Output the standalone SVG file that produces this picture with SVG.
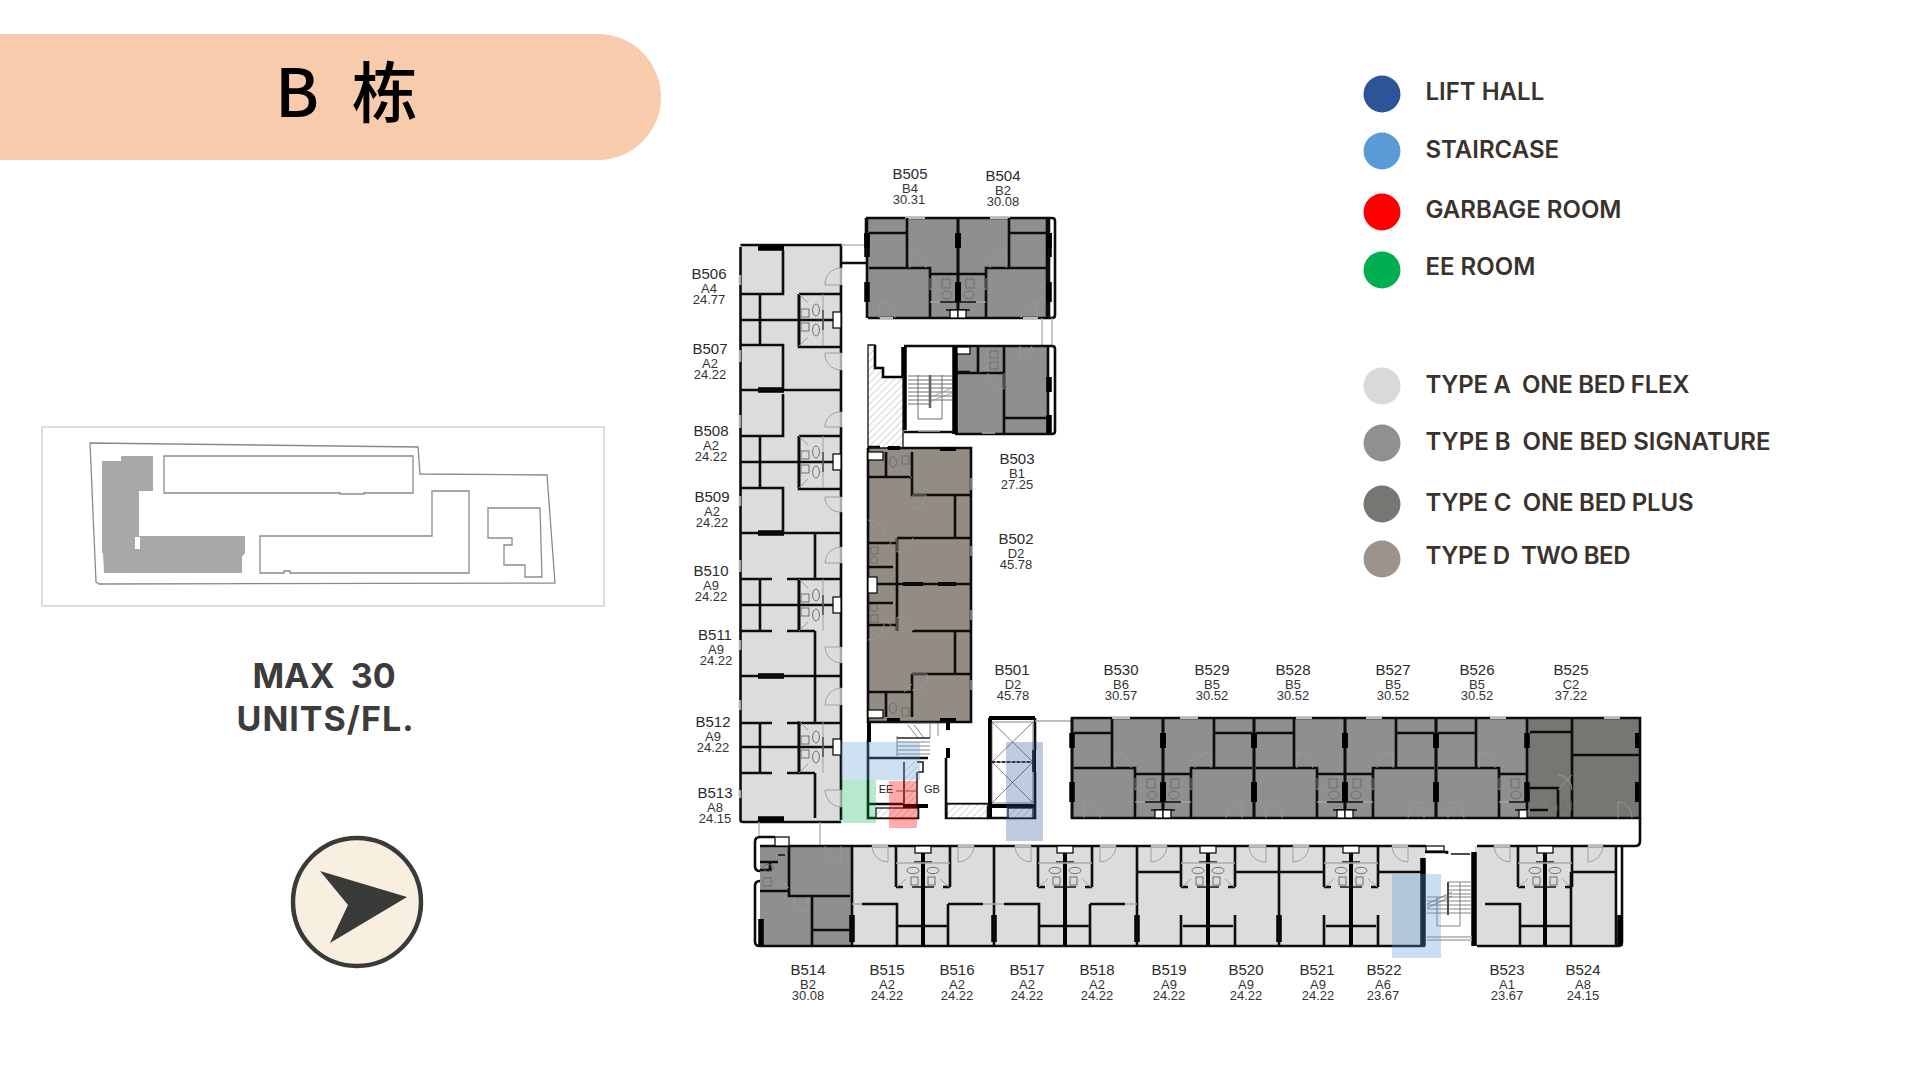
<svg xmlns="http://www.w3.org/2000/svg" width="1920" height="1080" viewBox="0 0 1920 1080">
<style>
.leg{font-family:"Inter","Liberation Sans",sans-serif;font-weight:600;font-size:24px;fill:#3a332d;white-space:pre}
.max{font-family:"Inter","Liberation Sans",sans-serif;font-weight:700;font-size:34px;fill:#3c3c3c;text-anchor:middle;white-space:pre}
.n{font-family:"Liberation Sans",sans-serif;font-size:15px;fill:#2a2a2a;text-anchor:middle}
.s{font-family:"Liberation Sans",sans-serif;font-size:13px;fill:#333;text-anchor:middle}
.r{font-family:"Liberation Sans",sans-serif;font-size:11px;fill:#222;text-anchor:middle}
.k{fill:none;stroke:#0c0c0c;stroke-width:2.6}
.k1{fill:none;stroke:#111;stroke-width:1.5}
.K{fill:none;stroke:#000;stroke-width:5.5}
.K4{fill:none;stroke:#000;stroke-width:4}
.g{fill:none;stroke:#aaa;stroke-width:2.4}
.g1{fill:none;stroke:#aaa;stroke-width:1.3}
.g2{fill:none;stroke:#bbb;stroke-width:1.8}
.d{fill:none;stroke:#999;stroke-width:.9}
.f{fill:none;stroke:#6e6e6e;stroke-width:1}
.f8{fill:none;stroke:#666;stroke-width:.8}
.w{fill:#fff;stroke:#000;stroke-width:1.2}
.m{fill:none;stroke:#8a8a8a;stroke-width:1.3}
.h{fill:url(#hatch);stroke:#111;stroke-width:1.3}
</style>
<defs>
<pattern id="hatch" patternUnits="userSpaceOnUse" width="5" height="5" patternTransform="rotate(-45)"><rect width="5" height="5" fill="#fff"/><path d="M0 0H5" stroke="#aaa" stroke-width="1"/></pattern>
<g id="um">
<path class="k" d="M-51 0V50M-89 15H-51M-89 50H-28V100M-28 56H0M0 0V92M-91 0V100"/>
<path class="K" d="M0 15V30M0 64V84M-91 15V30M-91 64V84"/>
<path class="k1" d="M-18 84H0M-12 92H0"/>
<path class="g1" d="M-28 84H-18"/>
<rect class="w" x="-8" y="92" width="8" height="8"/>
<rect class="f" x="-16" y="61" width="8" height="9"/><ellipse class="f" cx="-11" cy="77" rx="5" ry="4"/>
<path class="d" d="M-28 72L-20 65M-28 60V72"/>
<path class="d" d="M-48 50V34A16 16 0 0 1 -32 50M-79 100V84A16 16 0 0 1 -63 100"/>
</g>
<g id="bb">
<path class="k" d="M-27 0V41M27 0V41M-27 41H-20M20 41H27"/>
<path class="k1" d="M-9 16H9M-11 41H11"/>
<path class="K4" d="M0 7V100"/>
<path class="g1" d="M-27 17H27"/>
<rect class="w" x="-8" y="0" width="16" height="7"/>
<ellipse class="f" cx="-10" cy="24.5" rx="6" ry="3.2"/><ellipse class="f" cx="10" cy="24.5" rx="6" ry="3.2"/>
<rect class="f" x="-12" y="31" width="7" height="8"/><rect class="f" x="5" y="31" width="7" height="8"/>
<path class="d" d="M-26 41L-17 33M26 41L17 33"/>
</g>
<g id="cb">
<path class="k" d="M0 -26V26M-59 0H34"/>
<path class="k1" d="M24 -10V10M24 0H34"/>
<rect class="w" x="34" y="-8" width="8" height="16"/>
<rect class="f" x="2" y="-11" width="8" height="8"/><rect class="f" x="2" y="3" width="8" height="8"/>
<ellipse class="f" cx="17" cy="-10" rx="3.4" ry="6"/><ellipse class="f" cx="17" cy="10" rx="3.4" ry="6"/>
<path class="d" d="M0 -26L9 -17M0 26L9 17M24 -26V26"/>
</g>
</defs>

<g id="header">
<path d="M0 34H598A63 63 0 0 1 598 160H0Z" fill="#f7cbac"/>
<text x="275" y="117" font-family="Noto Sans CJK SC, sans-serif" font-weight="500" font-size="66" word-spacing="18" fill="#000">B 栋</text>
</g>

<g id="site-map">
<rect x="42" y="427" width="562" height="179" fill="#fff" stroke="#d2d2d2" stroke-width="1.5"/>
<path d="M102 461H121V456H153V491H139V536H245V553L242 557V573H104L103 553H102ZM135 537V549H140V537Z" fill="#a8a8a8" fill-rule="evenodd"/>
<path class="m" d="M90 443L418 447L420 474L547 475L555 583L99 584L96 582Z"/>
<path class="m" d="M164 456H413V493H364V494H340V493H164Z"/>
<path class="m" d="M260 536H432V491H469V573H290V571H284V573H260Z"/>
<path class="m" d="M488 508H540L542 577H525V565H504V545H512V538H488Z"/>
</g>

<g id="capacity">
<text class="max" x="324" y="688">MAX  30</text>
<text class="max" x="325" y="731" textLength="177">UNITS/FL.</text>
</g>

<g id="compass">
<circle cx="357" cy="902" r="64" fill="#f9efe0" stroke="#3a3a38" stroke-width="4.5"/>
<path d="M320 871L407 897L330 943L348 905Z" fill="#3a3a38"/>
</g>

<g id="legend">
<circle cx="1382" cy="94" r="18.5" fill="#2b5597"/><text class="leg" x="1425.5" y="100">LIFT HALL</text>
<circle cx="1382" cy="151" r="18.5" fill="#5b9bd5"/><text class="leg" x="1425.5" y="158">STAIRCASE</text>
<circle cx="1382" cy="212" r="18.5" fill="#ff0000"/><text class="leg" x="1425.5" y="218">GARBAGE ROOM</text>
<circle cx="1382" cy="270" r="18.5" fill="#00b050"/><text class="leg" x="1425.5" y="275">EE ROOM</text>
<circle cx="1382" cy="386" r="18.5" fill="#d9d9d9"/><text class="leg" x="1425.5" y="393" textLength="264">TYPE A  ONE BED FLEX</text>
<circle cx="1382" cy="443" r="18.5" fill="#909090"/><text class="leg" x="1425.5" y="450" textLength="345">TYPE B  ONE BED SIGNATURE</text>
<circle cx="1382" cy="504" r="18.5" fill="#767672"/><text class="leg" x="1425.5" y="511" textLength="268">TYPE C  ONE BED PLUS</text>
<circle cx="1382" cy="559" r="18.5" fill="#9a948c"/><text class="leg" x="1425.5" y="564" textLength="205">TYPE D  TWO BED</text>
</g>

<g id="plan-fills">
<rect x="740" y="245" width="101" height="577" fill="#dcdcda"/>
<path d="M866 218H1047V318H868V258H866Z" fill="#8f8f8f"/>
<rect x="957" y="347" width="90" height="86" fill="#8f8f8f"/>
<rect x="868" y="448" width="103" height="273" fill="#928c84"/>
<rect x="1072" y="718" width="455" height="100" fill="#8f8f8f"/>
<rect x="1527" y="718" width="113" height="100" fill="#767672"/>
<rect x="760" y="846" width="92" height="100" fill="#8f8f8f"/>
<rect x="852" y="846" width="573" height="100" fill="#dcdcda"/>
<rect x="1475" y="846" width="141" height="100" fill="#dcdcda"/>
</g>

<g id="wing-west">
<path class="k" d="M740.5 247V820Q740.5 822 743 822H841M740.5 245H841V268M841 285V353M841 370V412M841 427V497M841 512V547M841 563V647M841 663V688M841 705V790M841 807V820"/>
<path class="g" d="M841 268V285M841 353V370M841 412V427M841 497V512M841 547V563M841 647V663M841 688V705M841 790V807M740 275V285M740 350V362M740 415V428M740 496V506M740 560V572M740 640V650M740 700V710M740 790V798"/>
<path class="K" d="M758 248H784M758 390H784M758 533H784M758 676H784M758 819H784"/>
<path class="k" d="M783 250V294H740M799 294H841M760 294V344M799 294V347H841M740 345H783V390M740 390H841M783 394V436H740M799 436H841M760 436V488M799 436V489H841M740 488H783V533M740 533H841M815 534V579M740 579H772M787 579H815M799 579H841M760 579V631M799 579V631H815M740 631H772M787 631H815M815 631V676M740 676H841M815 676V722M740 723H772M787 723H841M760 723V773M799 723V773H815M740 773H772M787 773H815M815 773V818"/>
<use href="#cb" transform="translate(799,320)"/>
<use href="#cb" transform="translate(799,462)"/>
<use href="#cb" transform="translate(799,605)"/>
<use href="#cb" transform="translate(799,747)"/>
<path class="d" d="M841 285H825A16 16 0 0 1 841 268M841 353H825A16 16 0 0 0 841 370M841 427H825A15 15 0 0 1 841 412M841 497H825A15 15 0 0 0 841 512M841 563H825A16 16 0 0 1 841 547M841 647H825A16 16 0 0 0 841 663M841 705H825A17 17 0 0 1 841 688M841 790H825A17 17 0 0 0 841 807"/>
<path class="g1" d="M759 822V838M820 822V846"/>
</g>

<g id="wing-north">
<path class="k" d="M866 218H1052Q1055 218 1055 221V315Q1055 318 1052 318H1042M868 318H1047M1047 218V318"/>
<path class="K" d="M867 233V257M1049 233V257"/>
<path class="k" d="M866 218V233M841 263H868"/>
<path class="g1" d="M841 245H866"/>
<path class="g2" d="M880 318H893M1023 318H1038M905 218H925M990 218H1010"/>
<use href="#um" transform="translate(958,218)"/>
<use href="#um" transform="translate(958,218) scale(-1,1)"/>
<path class="g1" d="M1042 318V345M1052 318V345"/>
</g>

<g id="unit-b503">
<path class="k" d="M904 346H1052Q1055 346 1055 349V431Q1055 434 1052 434H955M1004 347V433M1004 418H1047M1048 347V433M957 373H1004M978 347V372M957 372H970"/>
<path class="K" d="M955 347V434M904 347V430M1049 377V392M1049 415V433"/>
<rect class="w" x="957" y="347" width="13" height="7"/>
<rect class="f" x="990" y="351" width="8" height="7"/><rect class="f" x="990" y="362" width="8" height="7"/>
<path class="d" d="M1004 373V389A16 16 0 0 1 988 373M1020 346V358A16 16 0 0 0 1032 346M980 372L988 366"/>
<path class="k" d="M904 432H953"/>
<path class="g1" d="M918 431H940M982 433H995"/>
<path class="f" d="M918 375V419H942V375M908 376H952M908 380H952M908 384H952M908 388H952M908 392H952M908 396H952M908 400H952M908 404H930"/>
<path d="M930 375V408" fill="none" stroke="#666" stroke-width="2.6"/>
<path class="d" d="M931 397L952 388M931 401L952 393"/>
<path class="h" d="M868 345H875V368H883V377H903V448H868Z"/>
<path d="M875 345V368H883V377H903" fill="none" stroke="#000" stroke-width="2.6"/>
</g>

<g id="wing-d">
<path class="k" d="M868 447H880M887 448H971V722H868V448"/>
<path class="K4" d="M888 448H900M940 449H956M903 584H923M938 584H956M940 720H956M887 720H900"/>
<rect class="w" x="868" y="452" width="15" height="8"/>
<rect class="w" x="868" y="577" width="9" height="16"/>
<rect class="w" x="868" y="710" width="15" height="8"/>
<path class="k" d="M912 452V495H971M955 495V538M897 538H971M868 477H912M868 543H897M897 538V631M868 567H893M877 584H971M868 603H893M868 625H897M912 631H971M955 631V673M912 674H971M912 674V717M868 692H912M886 692V717M886 452V477"/>
<path class="d" d="M912 495H926A14 14 0 0 1 912 509M868 520A16 16 0 0 1 884 536M868 640A16 16 0 0 0 884 624M897 538V552A16 16 0 0 0 913 538M897 631V617A16 16 0 0 1 913 631M912 674H927A14 14 0 0 1 912 690"/>
<g>
<ellipse class="f" cx="893" cy="462" rx="3.5" ry="5"/><rect class="f" x="902" y="456" width="7" height="8"/>
<ellipse class="f" cx="874" cy="560" rx="4" ry="3.5"/><rect class="f" x="871" y="547" width="7" height="7"/>
<ellipse class="f" cx="874" cy="608" rx="4" ry="3.5"/><rect class="f" x="871" y="615" width="7" height="7"/>
<ellipse class="f" cx="893" cy="708" rx="3.5" ry="5"/><rect class="f" x="902" y="708" width="7" height="8"/>
</g>
<path class="d" d="M902 468L912 478M904 692L912 684M886 548L893 540M886 620L893 628"/>
<path class="g1" d="M971 478V490M971 546V556M971 610V620M971 680V690"/>
</g>

<g id="core-west">
<path class="k" d="M868 758H928M868 740V818H918V808M868 804H903M946 758V818H988M946 804H988"/>
<path class="K4" d="M869 723V742M948 722V730M948 748V758M903 806H928"/>
<path class="k1" d="M870 722H948M917 762H923V772H918"/>
<rect x="905" y="762" width="12" height="42" fill="url(#hatch)"/>
<path class="k1" d="M904 762V804M917 772V804"/>
<rect class="h" x="876" y="808" width="42" height="10"/>
<rect class="h" x="947" y="804" width="41" height="14"/>
<path class="f8" d="M897 738H930M897 742H930M897 746H930M897 750H930M897 754H930M897 736V756M908 725L918 738M914 725L924 738M908 723H938V736M930 723V738"/>
<path d="M897 738H930" fill="none" stroke="#333" stroke-width="1.5"/>
<text class="r" x="886" y="793">EE</text>
<text class="r" x="932" y="793">GB</text>
<path class="f" d="M896 791H917"/>
</g>

<g id="lift">
<path class="K4" d="M989 718H1035M990 718V818M1034 750V772M992 806H1035"/>
<path class="k" d="M1035 718V750M988 806V818H1035V806M1035 772V806"/>
<rect class="h" x="1008" y="808" width="25" height="10"/>
<path class="f8" d="M992 722H1033V762H992ZM992 762H1033V803H992ZM992 722L1033 762M1033 722L992 762M992 762L1033 803M1033 762L992 803"/>
<path class="k1" d="M992 762H1033" stroke-dasharray="3 2"/>
<path class="g1" d="M1035 721H1072"/>
</g>

<g id="wing-east">
<path class="k" d="M1072 718H1640V818H1072Z"/>
<use href="#um" transform="translate(1163,718)"/>
<use href="#um" transform="translate(1163,718) scale(-1,1)"/>
<use href="#um" transform="translate(1345,718)"/>
<use href="#um" transform="translate(1345,718) scale(-1,1)"/>
<use href="#um" transform="translate(1527,718)"/>
<path class="k" d="M1572 718V818M1530 732H1572M1530 788H1558V818M1573 755H1640M1530 810H1548"/>
<path class="K4" d="M1637 733V748M1637 782V802"/>
<rect class="f" x="1563" y="802" width="8" height="8"/><ellipse class="f" cx="1554" cy="808" rx="3" ry="6"/>
<path class="d" d="M1572 790A15 15 0 0 0 1558 775M1618 818V802A15 15 0 0 1 1632 818M1572 775L1558 790"/>
<path class="k" d="M1640 818V841Q1640 846 1635 846"/>
<path class="g2" d="M1112 718H1130M1180 718H1198M1296 718H1312M1366 718H1382M1490 718H1506M1604 718H1620"/>
</g>

<g id="wing-south">
<path class="k" d="M760 846H1426M775 837H760Q755 837 755 842V866Q755 871 760 871M760 881Q755 881 755 886V942Q755 946 760 946H1425M1477 846H1635M1477 946H1618Q1622 946 1622 942V846M1616 846V946"/>
<rect class="w" x="775" y="837" width="14" height="9"/>
<path class="K" d="M761 919V946M852 915V942M994 915V942M1137 915V942M1279 915V942M1620 915V946"/>
<path class="k" d="M852 846V946M994 846V946M1137 846V946M1279 846V946M789 846V896H850M760 891H789M812 896V946M812 930H850M760 862H778M760 870H772M770 862V870"/>
<path class="k1" d="M778 855H785"/>
<ellipse class="f" cx="768" cy="868" rx="5" ry="3.5"/><rect class="f" x="763" y="878" width="8" height="8"/>
<path class="d" d="M841 846V862A16 16 0 0 1 825 846M789 888L779 878M808 897V912A14 14 0 0 1 794 897"/>
<use href="#bb" transform="translate(923,846)"/>
<use href="#bb" transform="translate(1065,846)"/>
<use href="#bb" transform="translate(1208,846)"/>
<use href="#bb" transform="translate(1351,846)"/>
<use href="#bb" transform="translate(1545,846)"/>
<path class="k" d="M862 904H897V946M898 926H947M948 904V946M948 904H983"/>
<path class="k" d="M1004 904H1039V946M1040 926H1089M1090 904V946M1090 904H1125"/>
<path class="k" d="M1137 872H1181M1181 915V946M1235 915V946M1183 926H1233M1235 872H1279"/>
<path class="k" d="M1279 872H1324M1324 915V946M1378 915V946M1326 926H1376M1378 872H1421"/>
<path class="k" d="M1485 904H1520V946M1521 926H1570M1571 872V946M1572 872H1616"/>
<path class="d" d="M888 846V862A16 16 0 0 1 872 846M958 846V862A16 16 0 0 0 974 846M1031 846V862A16 16 0 0 1 1015 846M1100 846V862A16 16 0 0 0 1116 846M1151 846V862A16 16 0 0 0 1167 846M1266 846V862A16 16 0 0 1 1249 846M1293 846V862A16 16 0 0 0 1309 846M1408 846V862A16 16 0 0 1 1392 846M1510 846V862A16 16 0 0 1 1494 846M1588 846V862A16 16 0 0 0 1603 846"/>
<path class="g1" d="M852 904H862M983 904H994M994 904H1004M1125 904H1137"/>
<path class="g2" d="M872 846H888M958 846H974M1015 846H1031M1100 846H1116M1151 846H1167M1249 846H1266M1293 846H1309M1392 846H1408M1494 846H1510M1588 846H1603"/>
</g>

<g id="core-east">
<path class="K" d="M1423 858V946M1474 852V946"/>
<path class="k" d="M1425 852H1447V854"/>
<rect class="w" x="1426" y="846" width="18" height="5"/>
<path class="k1" d="M1451 854H1470"/>
<path class="g1" d="M1427 937H1472M1427 940H1472"/>
<path d="M1448 882V915" fill="none" stroke="#333" stroke-width="1.8"/>
<path class="f8" d="M1448 882H1472M1448 886H1472M1448 890H1472M1448 894H1472M1427 897H1472M1427 901H1472M1427 905H1472M1427 909H1472M1427 913H1472M1437 897V926H1460V882M1427 908L1452 896M1427 904L1452 892"/>
</g>

<g id="zones">
<rect x="841" y="742" width="79" height="38" fill="#5b9bd5" opacity=".3"/>
<rect x="841" y="780" width="35" height="43" fill="#00b050" opacity=".28"/>
<rect x="889" y="781" width="28" height="47" fill="#ff0000" opacity=".33"/>
<rect x="1006" y="742" width="37" height="99" fill="#2b5597" opacity=".3"/>
<rect x="1392" y="874" width="49" height="84" fill="#5b9bd5" opacity=".32"/>
</g>

<g id="unit-labels">
<text class="n" x="910" y="179">B505</text><text class="s" x="910" y="193">B4</text><text class="s" x="909" y="204">30.31</text>
<text class="n" x="1003" y="181">B504</text><text class="s" x="1003" y="195">B2</text><text class="s" x="1003" y="206">30.08</text>
<text class="n" x="709" y="279">B506</text><text class="s" x="709" y="293">A4</text><text class="s" x="709" y="304">24.77</text>
<text class="n" x="710" y="354">B507</text><text class="s" x="710" y="368">A2</text><text class="s" x="710" y="379">24.22</text>
<text class="n" x="711" y="436">B508</text><text class="s" x="711" y="450">A2</text><text class="s" x="711" y="461">24.22</text>
<text class="n" x="712" y="502">B509</text><text class="s" x="712" y="516">A2</text><text class="s" x="712" y="527">24.22</text>
<text class="n" x="711" y="576">B510</text><text class="s" x="711" y="590">A9</text><text class="s" x="711" y="601">24.22</text>
<text class="n" x="715" y="640">B511</text><text class="s" x="716" y="654">A9</text><text class="s" x="716" y="665">24.22</text>
<text class="n" x="713" y="727">B512</text><text class="s" x="713" y="741">A9</text><text class="s" x="713" y="752">24.22</text>
<text class="n" x="715" y="798">B513</text><text class="s" x="715" y="812">A8</text><text class="s" x="715" y="823">24.15</text>
<text class="n" x="1017" y="464">B503</text><text class="s" x="1017" y="478">B1</text><text class="s" x="1017" y="489">27.25</text>
<text class="n" x="1016" y="544">B502</text><text class="s" x="1016" y="558">D2</text><text class="s" x="1016" y="569">45.78</text>
<text class="n" x="1012" y="675">B501</text><text class="s" x="1013" y="689">D2</text><text class="s" x="1013" y="700">45.78</text>
<text class="n" x="1121" y="675">B530</text><text class="s" x="1121" y="689">B6</text><text class="s" x="1121" y="700">30.57</text>
<text class="n" x="1212" y="675">B529</text><text class="s" x="1212" y="689">B5</text><text class="s" x="1212" y="700">30.52</text>
<text class="n" x="1293" y="675">B528</text><text class="s" x="1293" y="689">B5</text><text class="s" x="1293" y="700">30.52</text>
<text class="n" x="1393" y="675">B527</text><text class="s" x="1393" y="689">B5</text><text class="s" x="1393" y="700">30.52</text>
<text class="n" x="1477" y="675">B526</text><text class="s" x="1477" y="689">B5</text><text class="s" x="1477" y="700">30.52</text>
<text class="n" x="1571" y="675">B525</text><text class="s" x="1571" y="689">C2</text><text class="s" x="1571" y="700">37.22</text>
<text class="n" x="808" y="975">B514</text><text class="s" x="808" y="989">B2</text><text class="s" x="808" y="1000">30.08</text>
<text class="n" x="887" y="975">B515</text><text class="s" x="887" y="989">A2</text><text class="s" x="887" y="1000">24.22</text>
<text class="n" x="957" y="975">B516</text><text class="s" x="957" y="989">A2</text><text class="s" x="957" y="1000">24.22</text>
<text class="n" x="1027" y="975">B517</text><text class="s" x="1027" y="989">A2</text><text class="s" x="1027" y="1000">24.22</text>
<text class="n" x="1097" y="975">B518</text><text class="s" x="1097" y="989">A2</text><text class="s" x="1097" y="1000">24.22</text>
<text class="n" x="1169" y="975">B519</text><text class="s" x="1169" y="989">A9</text><text class="s" x="1169" y="1000">24.22</text>
<text class="n" x="1246" y="975">B520</text><text class="s" x="1246" y="989">A9</text><text class="s" x="1246" y="1000">24.22</text>
<text class="n" x="1317" y="975">B521</text><text class="s" x="1318" y="989">A9</text><text class="s" x="1318" y="1000">24.22</text>
<text class="n" x="1384" y="975">B522</text><text class="s" x="1383" y="989">A6</text><text class="s" x="1383" y="1000">23.67</text>
<text class="n" x="1507" y="975">B523</text><text class="s" x="1507" y="989">A1</text><text class="s" x="1507" y="1000">23.67</text>
<text class="n" x="1583" y="975">B524</text><text class="s" x="1583" y="989">A8</text><text class="s" x="1583" y="1000">24.15</text>
</g>
</svg>
